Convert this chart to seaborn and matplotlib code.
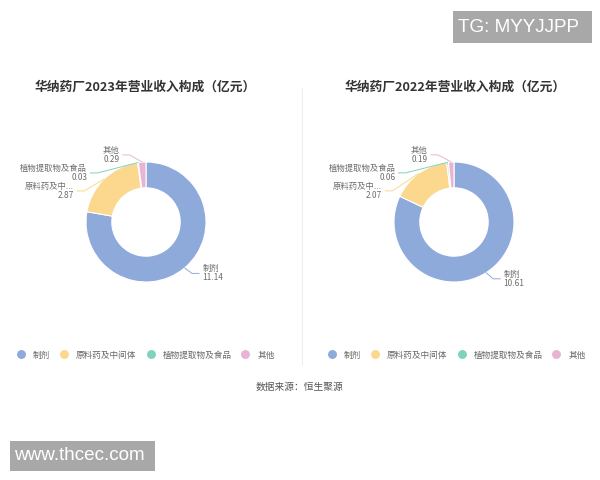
import numpy as np
import matplotlib
matplotlib.use("Agg")
import matplotlib.pyplot as plt
from matplotlib.lines import Line2D
from matplotlib.patches import Rectangle
import seaborn as sns

# data
categories = ["制剂", "原料药及中间体", "植物提取物及食品", "其他"]
pie_labels = ["制剂", "原料药及中...", "植物提取物及食品", "其他"]
values_2023 = [11.14, 2.87, 0.03, 0.29]
values_2022 = [10.61, 2.07, 0.06, 0.19]
titles = ["华纳药厂2023年营业收入构成（亿元）", "华纳药厂2022年营业收入构成（亿元）"]
source_text = "数据来源：恒生聚源"

colors = sns.color_palette(["#8eaadb", "#fbd88e", "#7fd3bd", "#e8b4d3"])

sns.set_theme(style="white")
plt.rcParams['font.family'] = ['Noto Sans CJK SC', 'DejaVu Sans']

W, H = 600, 480
fig = plt.figure(figsize=(6, 4.8), dpi=100)
R_PX = 60  # outer radius in pixels, 1 data unit


def add_donut_axes(x0, x1, y0, y1):
    ax = fig.add_axes([x0 / W, 1 - y1 / H, (x1 - x0) / W, (y1 - y0) / H])
    return ax


def set_px_limits(ax, x0, x1, y0, y1, cx, cy):
    ax.set_aspect("auto")
    ax.set_xlim(-(cx - x0) / R_PX, (x1 - cx) / R_PX)
    ax.set_ylim(-(y1 - cy) / R_PX, (cy - y0) / R_PX)
    ax.axis("off")


def draw_donut(ax, values):
    wedges, _ = ax.pie(values, colors=colors, startangle=90, counterclock=False,
                       radius=1.0, wedgeprops=dict(width=0.43, edgecolor="white", linewidth=0.8))
    # label layout, echarts-like: outside labels with elbow lines
    items = []
    for w, name, v in zip(wedges, pie_labels, values):
        th = np.deg2rad((w.theta1 + w.theta2) / 2)
        items.append(dict(c=np.cos(th), s=np.sin(th), name=name, v=v, col=w.get_facecolor()))
    rr = 1.15
    gap = 0.3
    for side in (1, -1):
        group = [it for it in items if np.sign(it["c"]) == side or (it["c"] == 0 and side == 1)]
        group.sort(key=lambda it: -it["s"])
        prev = None
        for it in group:
            y = min(1.12 * it["s"], 1.15)
            if prev is not None:
                y = min(y, prev - gap)
            prev = y
            ex = side * max(abs(rr * it["c"]), np.sqrt(max(rr ** 2 - y ** 2, 0)))
            endx = ex + side * 0.12
            ax.plot([it["c"], ex, endx], [it["s"], y, y], color=it["col"], lw=0.7)
            ha = "left" if side == 1 else "right"
            ax.text(endx + side * 0.05, y, f"{it['name']}\n{it['v']:.2f}", ha=ha, va="center",
                    multialignment=ha, fontsize=6.0, color="#6e6e6e", linespacing=1.0)


ax1 = add_donut_axes(0, 300, 60, 360)
draw_donut(ax1, values_2023)
set_px_limits(ax1, 0, 300, 60, 360, 146, 222)
ax2 = add_donut_axes(300, 600, 60, 360)
draw_donut(ax2, values_2022)
set_px_limits(ax2, 300, 600, 60, 360, 454, 222)

for title, xc in zip(titles, (145, 455)):
    fig.text(xc / W, 1 - 87 / H, title, ha="center", va="center", fontsize=9.2,
             fontweight="bold", color="#333333")

# separator line
fig.add_artist(Line2D([302 / W, 302 / W], [1 - 88 / H, 1 - 365 / H], color="#eeeeee", lw=0.8))

# legends
handles = [Line2D([], [], marker="o", ls="", markersize=5.4, color=c) for c in colors]
for xc in (146, 457):
    leg = fig.legend(handles, categories, loc="center", bbox_to_anchor=(xc / W, 1 - 355 / H),
                     ncol=4, frameon=False, fontsize=6.2, handletextpad=0.95,
                     columnspacing=1.2, handlelength=0.85, borderpad=0)
    for t in leg.get_texts():
        t.set_color("#666666")

fig.text(300 / W, 1 - 387 / H, source_text, ha="center", va="center", fontsize=7, color="#555555")

# watermarks
fig.add_artist(Rectangle((453 / W, 1 - 43 / H), 139 / W, 32 / H, transform=fig.transFigure,
                         facecolor="#a8a8a8", edgecolor="none"))
fig.text(458 / W, 1 - 27 / H, "TG: MYYJJPP", ha="left", va="center", fontsize=13.6,
         color="white", family="Liberation Sans")
fig.add_artist(Rectangle((10 / W, 1 - 471 / H), 145 / W, 30 / H, transform=fig.transFigure,
                         facecolor="#a8a8a8", edgecolor="none"))
fig.text(14 / W, 1 - 456 / H, "www.thcec.com", ha="left", va="center", fontsize=13.6,
         color="white", family="Liberation Sans")

fig.savefig("out.png", dpi=100)
